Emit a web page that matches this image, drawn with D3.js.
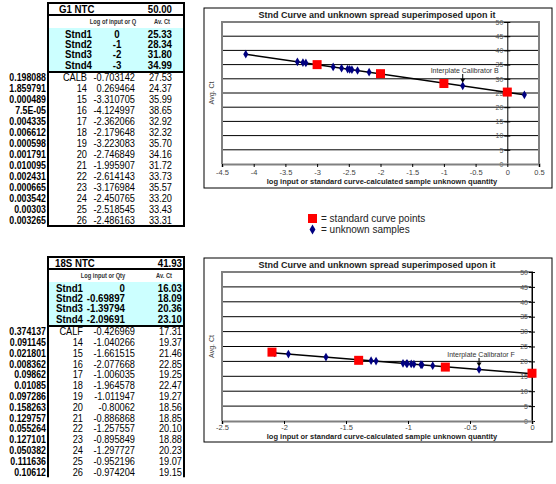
<!DOCTYPE html>
<html><head><meta charset="utf-8">
<script src="https://cdn.jsdelivr.net/npm/d3@7"></script>
<style>body{margin:0;background:#fff} svg{display:block;font-family:"Liberation Sans",Arial,sans-serif}</style>
</head><body><svg id="c" width="556" height="484"></svg>
<script>
// ---------- DATA: G1 ----------
const g1NtcLabel = "G1 NTC", g1NtcValue = "50.00";
const g1HeaderLog = "Log of input or Q", g1HeaderCt = "Av. Ct";
const g1StdNames = ["Stnd1", "Stnd2", "Stnd3", "Stnd4"];
const g1StdLog = [0, -1, -2, -3];
const g1StdCt = [25.33, 28.34, 31.80, 34.99];
const g1Qty = ["0.198088","1.859791","0.000489","7.5E-05","0.004335","0.006612","0.000598","0.001791","0.010095","0.002431","0.000665","0.003542","0.00303","0.003265"];
const g1Names = ["CALB","14","15","16","17","18","19","20","21","22","23","24","25","26"];
const g1Log = [-0.703142,0.269464,-3.310705,-4.124997,-2.362066,-2.179648,-3.223083,-2.746849,-1.995907,-2.614143,-3.176984,-2.450765,-2.518545,-2.486163];
const g1Ct = [27.53,24.37,35.99,38.65,32.92,32.32,35.70,34.16,31.72,33.73,35.57,33.20,33.43,33.31];
const g1XTicks = [-4.5,-4,-3.5,-3,-2.5,-2,-1.5,-1,-0.5,0,0.5];
const g1CalLabel = "Interplate Calibrator B";

// ---------- DATA: 18S ----------
const s18NtcLabel = "18S NTC", s18NtcValue = "41.93";
const s18HeaderLog = "Log input or Qty", s18HeaderCt = "Av. Ct";
const s18StdNames = ["Stnd1", "Stnd2", "Stnd3", "Stnd4"];
const s18StdLog = [0, -0.69897, -1.39794, -2.09691];
const s18StdCt = [16.03, 18.09, 20.36, 23.10];
const s18Qty = ["0.374137","0.091145","0.021801","0.008362","0.09862","0.01085","0.097286","0.158263","0.129757","0.055264","0.127101","0.050382","0.111636","0.10612"];
const s18Names = ["CALF","14","15","16","17","18","19","20","21","22","23","24","25","26"];
const s18Log = [-0.426969,-1.040266,-1.661515,-2.077668,-1.006035,-1.964578,-1.011947,-0.80062,-0.886868,-1.257557,-0.895849,-1.297727,-0.952196,-0.974204];
const s18Ct = [17.31,19.37,21.46,22.85,19.25,22.47,19.27,18.56,18.85,20.10,18.88,20.23,19.07,19.15];
const s18XTicks = [-2.5,-2,-1.5,-1,-0.5,0];
const s18CalLabel = "Interplate Calibrator F";

const yTicks = [0,5,10,15,20,25,30,35,40,45,50];
const chartTitle = "Stnd Curve and unknown spread superimposed upon it";
const xTitle = "log input or standard curve-calculated sample unknown quantity";
const yTitle = "Avg. Ct";
const legendStd = "= standard curve points";
const legendUnk = "= unknown samples";

const svg = d3.select("#c");

// narrow text helper (reference font is a condensed Arial look)
function txt(g, x, y, s, size, bold, anchor, fill, sx) {
  return g.append("text").attr("transform", `translate(${x},${y}) scale(${sx || 0.88},1)`)
    .attr("font-size", size).attr("font-weight", bold ? "bold" : "normal")
    .attr("text-anchor", anchor || "start").attr("fill", fill || "#000").text(s);
}

function drawTable(o) {
  const g = svg.append("g");
  const L = 48, R = 184;
  const yN0 = o.top, yH0 = o.top + 12, yS0 = o.top + 25, yD0 = yS0 + 44;
  const yEnd = yD0 + o.rowH * o.names.length;
  g.append("rect").attr("x", L).attr("y", yS0).attr("width", R - L).attr("height", 44).attr("fill", "#ccffff");
  txt(g, o.ntcX, yN0 + 10, o.ntcLabel, 11, true);
  txt(g, o.ctRight, yN0 + 10, o.ntcValue, 11, true, "end");
  txt(g, o.hLogX, yH0 + 9, o.headerLog, 6.5, true, "middle", "#333");
  txt(g, o.hCtX, yH0 + 9, o.headerCt, 6.5, true, "middle", "#333");
  o.stdNames.forEach((n, i) => {
    const cy = yS0 + 5.5 + 10.4 * i + 4;
    txt(g, o.stdNameRight, cy, n, 11, true, "end");
    txt(g, o.stdLogX, cy, String(o.stdLog[i]), 11, true, o.stdLogAnchor);
    txt(g, o.ctRight, cy, o.stdCt[i].toFixed(2), 11, true, "end");
  });
  o.names.forEach((n, i) => {
    const cy = yD0 + o.rowH * (i + 0.5) + 3.8;
    txt(g, 46, cy, o.qty[i], 10, true, "end");
    txt(g, o.nameRight, cy, n, 10.5, false, "end");
    txt(g, 135, cy, String(o.logs[i]), 10.5, false, "end");
    txt(g, o.ctRight, cy, o.cts[i].toFixed(2), 10.5, false, "end");
  });
  const ln = (x1, y1, x2, y2, w) => g.append("line").attr("x1", x1).attr("y1", y1).attr("x2", x2).attr("y2", y2).attr("stroke", "#000").attr("stroke-width", w);
  ln(L - 1, yN0, R + 1, yN0, 2);
  ln(L, yH0, R, yH0, 2);
  ln(L, yD0, R, yD0, 2);
  ln(L, yN0, L, yEnd, 2);
  ln(R, yN0, R, yEnd, 2);
  if (o.bottom) ln(L - 1, yEnd, R + 1, yEnd, 2);
}

drawTable({top: 3, rowH: 11, ntcLabel: g1NtcLabel, ntcValue: g1NtcValue, ntcX: 59, headerLog: g1HeaderLog, headerCt: g1HeaderCt,
  hLogX: 113, hCtX: 162, ctRight: 172, stdNames: g1StdNames, stdNameRight: 92, stdLog: g1StdLog, stdLogX: 117, stdLogAnchor: "middle", stdCt: g1StdCt,
  qty: g1Qty, names: g1Names, nameRight: 87, logs: g1Log, cts: g1Ct, bottom: true});
drawTable({top: 257, rowH: 10.8, ntcLabel: s18NtcLabel, ntcValue: s18NtcValue, ntcX: 55, headerLog: s18HeaderLog, headerCt: s18HeaderCt,
  hLogX: 103, hCtX: 164, ctRight: 182, stdNames: s18StdNames, stdNameRight: 83, stdLog: s18StdLog, stdLogX: 125, stdLogAnchor: "end", stdCt: s18StdCt,
  qty: s18Qty, names: s18Names, nameRight: 83, logs: s18Log, cts: s18Ct, bottom: false});

function drawChart(o) {
  const g = svg.append("g");
  g.append("rect").attr("x", o.box[0]).attr("y", o.box[1]).attr("width", o.box[2] - o.box[0]).attr("height", o.box[3] - o.box[1])
    .attr("fill", "#fff").attr("stroke", "#000").attr("stroke-width", 1);
  const x = d3.scaleLinear().domain(o.xDomain).range([o.plot[0], o.plot[2]]);
  const y = d3.scaleLinear().domain([0, 50]).range([o.plot[3], o.plot[1]]);
  g.selectAll("line.grid").data(yTicks.filter(t => t > 0 && t < 50)).join("line")
    .attr("x1", o.plot[0]).attr("x2", o.plot[2]).attr("y1", d => y(d)).attr("y2", d => y(d))
    .attr("stroke", "#000").attr("stroke-width", 1);
  g.append("path").attr("d", `M${o.plot[0]},${o.plot[3]}V${o.plot[1]}H${o.plot[2]}V${o.plot[3]}`)
    .attr("fill", "none").attr("stroke", "#808080").attr("stroke-width", 2);
  const ya = g.append("g").attr("transform", `translate(${x(0)},0)`)
    .call(d3.axisLeft(y).tickValues(yTicks).tickSize(3).tickPadding(1).tickFormat(d3.format("d")));
  ya.select(".domain").attr("stroke", "#000").attr("stroke-width", 1);
  ya.selectAll(".tick line").attr("x2", 3).attr("x1", -3).attr("stroke", "#000");
  ya.selectAll("text").attr("font-size", 7).attr("fill", "#555").attr("font-family", "Liberation Sans, Arial");
  const xa = g.append("g").attr("transform", `translate(0,${o.plot[3]})`)
    .call(d3.axisBottom(x).tickValues(o.xTicks).tickSize(3).tickPadding(o.xPad).tickFormat(d => String(d)));
  xa.select(".domain").attr("stroke", "#808080").attr("stroke-width", 2);
  xa.selectAll(".tick line").attr("stroke", "#000");
  xa.selectAll("text").attr("font-size", 7.5).attr("fill", "#444").attr("font-family", "Liberation Sans, Arial");
  g.append("text").attr("x", 377).attr("y", o.box[1] + 10).attr("text-anchor", "middle").attr("font-size", 9).attr("font-weight", "bold").attr("fill", "#222").text(chartTitle);
  g.append("text").attr("x", 382).attr("y", o.xTitleY).attr("text-anchor", "middle").attr("font-size", 7.5).attr("font-weight", "bold").attr("fill", "#222").text(xTitle);
  g.append("text").attr("transform", `translate(214,${(o.plot[1] + o.plot[3]) / 2}) rotate(-90)`).attr("text-anchor", "middle").attr("font-size", 7).attr("fill", "#444").text(yTitle);
  // trend line (least squares over all plotted points)
  const xs = o.stdLog.concat(o.unkLog), ys = o.stdCt.concat(o.unkCt);
  const mx = d3.mean(xs), my = d3.mean(ys);
  const slope = d3.sum(xs, (v, i) => (v - mx) * (ys[i] - my)) / d3.sum(xs, v => (v - mx) * (v - mx));
  const icpt = my - slope * mx;
  const [x0, x1] = d3.extent(xs);
  g.append("line").attr("x1", x(x0)).attr("y1", y(icpt + slope * x0)).attr("x2", x(x1)).attr("y2", y(icpt + slope * x1))
    .attr("stroke", "#000").attr("stroke-width", 1.5);
  g.selectAll("path.unk").data(o.unkLog).join("path")
    .attr("transform", (d, i) => `translate(${x(d)},${y(o.unkCt[i])})`)
    .attr("d", d3.symbol(d3.symbolDiamond, 22)).attr("fill", "#000080");
  g.selectAll("rect.std").data(o.stdLog).join("rect")
    .attr("x", d => x(d) - 4.5).attr("y", (d, i) => y(o.stdCt[i]) - 4.5).attr("width", 9).attr("height", 9).attr("fill", "#ff0000");
  const cx = x(o.unkLog[0]), cy = y(o.unkCt[0]);
  g.append("text").attr("x", cx + 2).attr("y", o.calTextY).attr("text-anchor", "middle").attr("font-size", 7).attr("fill", "#333").text(o.calLabel);
  g.append("line").attr("x1", cx).attr("x2", cx).attr("y1", o.calTextY + 1).attr("y2", cy - 5).attr("stroke", "#000").attr("stroke-width", 1);
  g.append("path").attr("d", `M${cx - 2.5},${cy - 7}L${cx + 2.5},${cy - 7}L${cx},${cy - 3}Z`).attr("fill", "#000");
}

drawChart({box: [204, 8, 552, 188], plot: [222, 22, 539, 164], xDomain: [-4.5, 0.5], xTicks: g1XTicks, xPad: 3,
  stdLog: g1StdLog, stdCt: g1StdCt, unkLog: g1Log, unkCt: g1Ct, calLabel: g1CalLabel, calTextY: 73, xTitleY: 184});
drawChart({box: [204, 258, 552, 442], plot: [222, 272, 532, 421], xDomain: [-2.5, 0], xTicks: s18XTicks, xPad: 1,
  stdLog: s18StdLog, stdCt: s18StdCt, unkLog: s18Log, unkCt: s18Ct, calLabel: s18CalLabel, calTextY: 357, xTitleY: 439});

const lg = svg.append("g");
lg.append("rect").attr("x", 308).attr("y", 214).attr("width", 9).attr("height", 9).attr("fill", "#ff0000");
lg.append("text").attr("x", 321).attr("y", 222).attr("font-size", 10).attr("fill", "#222").text(legendStd);
lg.append("path").attr("transform", "translate(312.5,229.5)").attr("d", d3.symbol(d3.symbolDiamond, 30)).attr("fill", "#000080");
lg.append("text").attr("x", 321).attr("y", 233).attr("font-size", 10).attr("fill", "#222").text(legendUnk);
</script></body></html>
